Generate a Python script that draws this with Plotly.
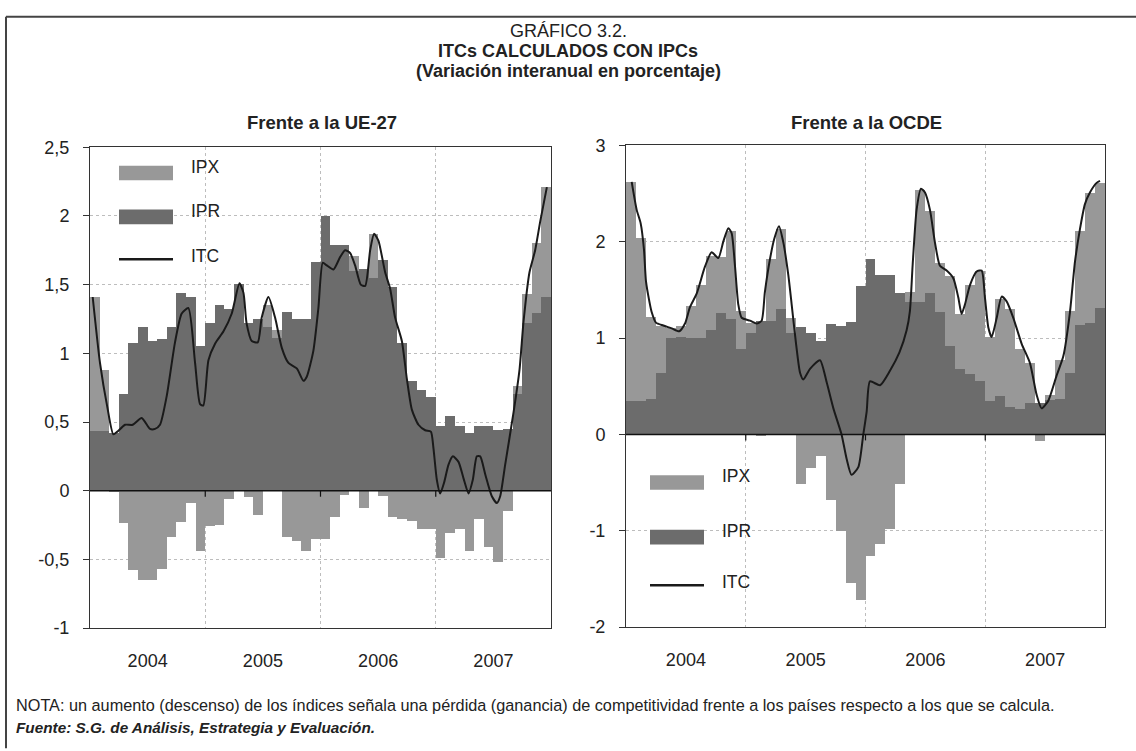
import plotly.graph_objects as go

W, H = 1136, 751

# month index 0..47 = ene-2004 .. dic-2007
years = ["2004", "2005", "2006", "2007"]
year_centers = [6, 18, 30, 42]
year_bounds = [12, 24, 36]

# --- Frente a la UE-27 ---
ue_ipr = [0.43, 0.43, 0.42, 0.70, 1.07, 1.19, 1.09, 1.10, 1.19, 1.44, 1.41, 1.05,
          1.22, 1.35, 1.32, 1.50, 1.22, 1.25, 1.19, 1.11, 1.30, 1.25, 1.25, 1.66,
          2.00, 1.79, 1.79, 1.60, 1.61, 1.55, 1.68, 1.48, 1.07, 0.80, 0.73, 0.68,
          0.47, 0.54, 0.47, 0.42, 0.47, 0.47, 0.44, 0.45, 0.70, 1.22, 1.29, 1.41]
ue_ipx = [0.98, 0.45, -0.01, -0.24, -0.58, -0.65, -0.65, -0.57, -0.34, -0.23, -0.09, -0.44,
          -0.26, -0.25, -0.06, 0.0, -0.05, -0.18, 0.16, 0.06, -0.34, -0.37, -0.44, -0.35,
          -0.35, -0.19, -0.03, 0.11, -0.13, 0.32, -0.04, -0.19, -0.21, -0.22, -0.28, -0.28,
          -0.49, -0.31, -0.28, -0.44, -0.21, -0.41, -0.52, -0.15, 0.06, 0.21, 0.51, 0.80]
ue_itc_pos = [0.28, 1.04, 1.8, 2.43, 2.85, 3.65, 4.44, 5.38, 6.25, 6.77, 7.29, 7.99,
              8.85, 9.55, 10.24, 10.94, 11.46, 11.8, 12.33, 13.02, 13.9, 14.76, 15.56, 15.98,
              16.3, 16.84, 17.47, 17.88, 18.58, 19.27, 19.97, 20.66, 21.53, 22.22, 22.57, 23.26,
              23.78, 24.24, 24.65, 25.35, 26.04, 26.56, 27.08, 27.6, 28.19, 28.65, 29.17, 29.58,
              30.03, 30.73, 31.25, 31.77, 32.47, 33.0, 33.51, 34.2, 34.9, 35.49, 35.76, 36.11,
              36.46, 36.87, 37.33, 37.78, 38.37, 38.89, 39.41, 39.86, 40.28, 40.63, 41.15, 41.84,
              42.36, 42.71, 43.23, 44.1, 44.72, 45.14, 45.76, 46.35, 46.88, 47.57]
ue_itc = [1.41, 0.93, 0.61, 0.41, 0.43, 0.48, 0.48, 0.53, 0.45, 0.45, 0.48, 0.69,
          1.08, 1.29, 1.33, 0.93, 0.63, 0.62, 0.95, 1.07, 1.16, 1.29, 1.51, 1.44,
          1.22, 1.09, 1.08, 1.26, 1.41, 1.26, 1.04, 0.93, 0.89, 0.80, 0.83, 1.02,
          1.33, 1.66, 1.64, 1.61, 1.70, 1.75, 1.73, 1.64, 1.50, 1.49, 1.75, 1.87,
          1.82, 1.59, 1.47, 1.26, 1.09, 0.81, 0.59, 0.48, 0.44, 0.43, 0.31, 0.08,
          -0.02, 0.06, 0.19, 0.25, 0.21, 0.09, -0.02, 0.08, 0.25, 0.25, 0.12, -0.04,
          -0.09, -0.04, 0.19, 0.57, 0.88, 1.23, 1.59, 1.75, 1.96, 2.21]
ue_yticks = [-1, -0.5, 0, 0.5, 1, 1.5, 2, 2.5]
ue_yticktext = ["-1", "-0,5", "0", "0,5", "1", "1,5", "2", "2,5"]

# --- Frente a la OCDE ---
oc_ipr = [0.34, 0.34, 0.36, 0.63, 1.00, 1.01, 1.00, 1.00, 1.08, 1.26, 1.19, 0.88,
          1.05, 1.17, 1.17, 1.30, 1.05, 1.11, 1.05, 0.97, 1.14, 1.12, 1.16, 1.54,
          1.82, 1.65, 1.65, 1.46, 1.37, 1.37, 1.46, 1.27, 0.91, 0.68, 0.62, 0.55,
          0.34, 0.40, 0.28, 0.26, 0.32, 0.32, 0.35, 0.36, 0.63, 1.13, 1.15, 1.31]
oc_ipx = [2.28, 1.69, 0.86, 0.49, 0.10, 0.11, 0.33, 0.55, 0.77, 0.58, 0.92, 0.40,
          0.10, -0.01, 0.65, 0.83, 0.15, -0.52, -0.35, -0.23, -0.68, -1.01, -1.55, -1.72,
          -1.27, -1.14, -0.99, -0.52, 0.10, 1.16, 0.85, 0.51, 0.73, 0.57, 0.93, 1.14,
          0.67, 1.00, 1.02, 0.62, 0.42, -0.07, 0.06, 0.41, 0.65, 0.98, 1.35, 1.30]
oc_itc_pos = [0.57, 1.07, 1.47, 1.8, 2.0, 2.34, 2.57, 3.0, 3.74, 4.58, 5.34, 5.91,
              6.41, 7.08, 7.91, 8.58, 9.25, 9.75, 10.25, 10.58, 10.92, 11.25, 11.59, 12.42,
              13.09, 13.59, 13.92, 14.43, 14.86, 15.33, 15.77, 16.27, 16.6, 17.04, 17.44, 17.77,
              18.44, 19.44, 20.11, 20.78, 21.6, 22.1, 22.6, 23.28, 23.78, 24.12, 24.45, 25.46,
              26.45, 27.4, 28.12, 28.45, 28.72, 29.12, 29.56, 29.96, 30.46, 30.96, 31.46, 32.13,
              32.8, 33.3, 33.63, 33.97, 34.47, 35.14, 35.64, 35.97, 36.31, 36.64, 37.15, 37.64,
              38.14, 38.81, 39.65, 40.48, 41.15, 41.65, 42.32, 43.15, 43.82, 44.49, 44.99, 45.49,
              45.99, 46.49, 47.16, 47.5]
oc_itc = [2.62, 2.33, 2.19, 1.92, 1.59, 1.38, 1.27, 1.16, 1.13, 1.10, 1.07, 1.15,
          1.32, 1.46, 1.74, 1.89, 1.83, 2.0, 2.14, 2.09, 1.75, 1.35, 1.21, 1.18,
          1.15, 1.18, 1.48, 1.82, 2.03, 2.16, 1.99, 1.65, 1.35, 0.94, 0.64, 0.57,
          0.68, 0.77, 0.54, 0.27, 0.0, -0.25, -0.42, -0.34, 0.0, 0.24, 0.55, 0.51,
          0.66, 0.85, 1.08, 1.28, 1.75, 2.33, 2.55, 2.51, 2.33, 1.99, 1.75, 1.70,
          1.62, 1.42, 1.25, 1.35, 1.55, 1.69, 1.70, 1.42, 1.11, 1.01, 1.21, 1.43,
          1.38, 1.21, 0.94, 0.74, 0.41, 0.27, 0.35, 0.61, 0.81, 1.27, 1.79, 2.13,
          2.39, 2.51, 2.61, 2.63]
oc_yticks = [-2, -1, 0, 1, 2, 3]
oc_yticktext = ["-2", "-1", "0", "1", "2", "3"]

assert len(ue_itc_pos) == len(ue_itc), (len(ue_itc_pos), len(ue_itc))
assert len(oc_itc_pos) == len(oc_itc), (len(oc_itc_pos), len(oc_itc))

C_IPX = "#989898"
C_IPR = "#6c6c6c"
C_ITC = "#1a1a1a"
FONT = "Liberation Sans, Arial, sans-serif"
months = [i + 0.5 for i in range(48)]


def px(x):
    return x / W


def py(y):
    return 1 - y / H


fig = go.Figure()
for ax, ipr, ipx, pos, itc in [("", ue_ipr, ue_ipx, ue_itc_pos, ue_itc),
                               ("2", oc_ipr, oc_ipx, oc_itc_pos, oc_itc)]:
    fig.add_trace(go.Bar(x=months, y=ipr, width=1, marker=dict(color=C_IPR, line_width=0),
                         name="IPR", xaxis="x" + ax, yaxis="y" + ax, showlegend=False))
    fig.add_trace(go.Bar(x=months, y=ipx, width=1, marker=dict(color=C_IPX, line_width=0),
                         name="IPX", xaxis="x" + ax, yaxis="y" + ax, showlegend=False))
    fig.add_trace(go.Scatter(x=pos, y=itc, mode="lines", line=dict(color=C_ITC, width=2, shape="spline", smoothing=0.6),
                             name="ITC", xaxis="x" + ax, yaxis="y" + ax, showlegend=False))

xcommon = dict(range=[0, 48], tickmode="array", tickvals=year_centers, ticktext=years, ticks="",
               showgrid=False, zeroline=False, showline=True, mirror=True, linecolor="#333", linewidth=1,
               ticklabelstandoff=16, tickfont=dict(size=18, color="#222"),
               minor=dict(tickmode="array", tickvals=year_bounds, showgrid=True, griddash="dot",
                          gridcolor="#bdbdbd", gridwidth=1, ticks=""))
ycommon = dict(tickmode="array", ticks="outside", ticklen=6, tickcolor="#333", showgrid=True,
               griddash="dot", gridcolor="#bdbdbd", gridwidth=1, zeroline=False, showline=True, mirror=True,
               linecolor="#333", linewidth=1, tickfont=dict(size=18, color="#222"), ticklabelstandoff=10)

fig.update_layout(
    width=W, height=H, margin=dict(l=0, r=0, t=0, b=0),
    paper_bgcolor="white", plot_bgcolor="white",
    barmode="relative", bargap=0,
    font=dict(family=FONT, color="#222"),
    xaxis=dict(xcommon, domain=[px(90), px(551)], anchor="y"),
    yaxis=dict(ycommon, domain=[py(635), py(141)], range=[-1, 2.5], tickvals=ue_yticks,
               ticktext=ue_yticktext, anchor="x"),
    xaxis2=dict(xcommon, domain=[px(626), px(1105)], anchor="y2"),
    yaxis2=dict(ycommon, domain=[py(634), py(139)], range=[-2, 3], tickvals=oc_yticks,
                ticktext=oc_yticktext, anchor="x2"),
)

shapes = [
    # outer frame (top and left edges)
    dict(type="line", xref="paper", yref="paper", x0=px(6), x1=1.01, y0=py(7), y1=py(7),
         line=dict(color="#444", width=2)),
    dict(type="line", xref="paper", yref="paper", x0=px(6), x1=px(6), y0=py(7), y1=-0.01,
         line=dict(color="#444", width=2)),
]
for ax in ["", "2"]:
    # zero line drawn over the bars, with short year ticks below it
    shapes.append(dict(type="line", xref="x" + ax + " domain", yref="y" + ax, x0=0, x1=1, y0=0, y1=0,
                       layer="above", line=dict(color="#111", width=1.5)))
    for b in year_bounds:
        shapes.append(dict(type="line", xref="x" + ax, yref="y" + ax, ysizemode="pixel", yanchor=0,
                           x0=b, x1=b, y0=0, y1=-6, layer="above", line=dict(color="#111", width=1.2)))

annotations = [
    dict(text="GRÁFICO 3.2.", x=0.5, y=py(22), font=dict(size=18)),
    dict(text="<b>ITCs CALCULADOS CON IPCs</b>", x=0.5, y=py(42), font=dict(size=18)),
    dict(text="<b>(Variación interanual en porcentaje)</b>", x=0.5, y=py(63), font=dict(size=18)),
    dict(text="<b>Frente a la UE-27</b>", x=px(322), y=py(116), font=dict(size=18.5)),
    dict(text="<b>Frente a la OCDE</b>", x=px(866), y=py(116), font=dict(size=18.5)),
    dict(text="NOTA: un aumento (descenso) de los índices señala una pérdida (ganancia) de competitividad "
              "frente a los países respecto a los que se calcula.",
         x=px(14), y=py(714), xanchor="left", font=dict(size=16.25)),
    dict(text="<b><i>Fuente: S.G. de Análisis, Estrategia y Evaluación.</i></b>",
         x=px(14), y=py(737), xanchor="left", font=dict(size=15.3)),
]

# hand-drawn legends (large swatches as in the original)
for lx, ly in [(119, 160), (650, 478)]:
    for k, (lab, col) in enumerate([("IPX", C_IPX), ("IPR", C_IPR)]):
        y0 = ly + k * 56 if lx > 600 else ly + k * 45
        shapes.append(dict(type="rect", xref="paper", yref="paper", x0=px(lx), x1=px(lx + 54),
                           y0=py(y0 + 15), y1=py(y0), fillcolor=col, line_width=0, layer="above"))
        annotations.append(dict(text=lab, x=px(lx + 70), y=py(y0 + 1), xanchor="left", font=dict(size=17.5)))
    yl = ly + 113 if lx > 600 else ly + 96
    shapes.append(dict(type="line", xref="paper", yref="paper", x0=px(lx), x1=px(lx + 54),
                       y0=py(yl), y1=py(yl), line=dict(color=C_ITC, width=2.5), layer="above"))
    annotations.append(dict(text="ITC", x=px(lx + 70), y=py(yl - 3), xanchor="left", font=dict(size=17.5)))

for a in annotations:
    a.setdefault("xanchor", "center")
    a.update(xref="paper", yref="paper", yanchor="middle", showarrow=False)

fig.update_layout(shapes=shapes, annotations=annotations)
fig.write_html("out.html", config={"displayModeBar": False},
               post_script="document.body.style.margin='0';")
